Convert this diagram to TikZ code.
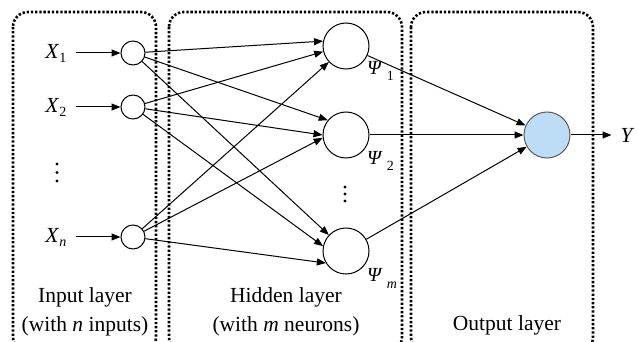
\documentclass[tikz,border=0pt]{standalone}
\usepackage{fontspec}
\setmainfont{Liberation Serif}
\newfontfamily\diagfont{Liberation Serif}
\usetikzlibrary{arrows.meta,positioning}
\definecolor{NeuronBlue}{RGB}{189,221,246}
\definecolor{NeuronEdge}{HTML}{5A5A5A}
\newcommand{\lowsub}[2][4pt]{\raisebox{-#1}{\fontsize{14}{14}\selectfont #2}}

\begin{document}
\begin{tikzpicture}[x=1pt,y=-1pt,>={Triangle[length=9pt,width=7pt]},
  font=\diagfont\fontsize{21.5}{29}\selectfont,
  layer/.style={line width=2.6pt,dash pattern=on 2.3pt off 1.9pt,rounded corners=15pt},
  conn/.style={->,line width=1pt},
  innode/.style={circle,draw,line width=1pt,minimum size=24pt,inner sep=0pt},
  hidnode/.style={circle,draw,line width=1pt,minimum size=46pt,inner sep=0pt},
  outnode/.style={circle,draw=NeuronEdge,fill=NeuronBlue,line width=1pt,minimum size=46pt,inner sep=0pt},
  varlab/.style={inner xsep=9pt,inner ysep=0pt},
  psilab/.style={anchor=base west,inner sep=0pt,font=\diagfont\fontsize{20}{20}\selectfont},
  laylab/.style={align=center,inner sep=0pt}]
  \useasboundingbox (0,0) rectangle (638,342);
  % layer frames
  \draw[layer] (13,12) rectangle (156,352);
  \draw[layer] (169,12) rectangle (402,352);
  \draw[layer] (411,12) rectangle (593,352);
  % neurons
  \node[innode] (i1) at (133,53) {};
  \node[innode] (i2) at (133,107) {};
  \node[innode] (in) at (133,237) {};
  \node[hidnode] (h1) at (346,46) {};
  \node[hidnode] (h2) at (346,135) {};
  \node[hidnode] (hm) at (346,251) {};
  \node[outnode] (o) at (547,135) {};
  % inputs, output, weights labels
  \node[varlab,left=45pt of i1] (x1) {\textit{X}\lowsub{1}};
  \node[varlab,left=45pt of i2] (x2) {\textit{X}\lowsub{2}};
  \node[varlab,left=45pt of in] (xn) {\textit{X}\lowsub{\textit{n}}};
  \node[varlab,right=41pt of o] (y) {\textit{Y}};
  \node[psilab] (p1) at ([shift={(21,29)}]h1.center) {\textit{Ψ}\kern4pt\lowsub[6pt]{1}};
  \node[psilab] (p2) at ([shift={(21,30)}]h2.center) {\textit{Ψ}\kern4pt\lowsub[6pt]{2}};
  \node[psilab] (pm) at ([shift={(21,31)}]hm.center) {\textit{Ψ}\kern4pt\lowsub[6pt]{\textit{m}}};
  \foreach \k in {0,1,2} {
    \fill (57,164+8.5*\k) circle (1.6pt);
    \fill (345,187+7*\k) circle (1.6pt);
  }
  % layer names
  \node[laylab,anchor=north] (inlab) at (85,287) {Input layer\\(with \textit{n} inputs)};
  \node[laylab,anchor=north] (hidlab) at (286,287) {Hidden layer\\(with \textit{m} neurons)};
  \node[laylab,anchor=base] (outlab) at (507,330) {Output layer};
  % connections
  \draw[conn] (x1) -- (i1);
  \draw[conn] (x2) -- (i2);
  \draw[conn] (xn) -- (in);
  \foreach \s/\t in {i1/h1.168,i1/h2.141,i1/hm.137,i2/h1.194,i2/h2.180,i2/hm.168,in/h1.223,in/h2.187,in/hm.211}
    \draw[conn] (\s) -- (\t);
  \draw[conn] (h1) -- (o);
  \draw[conn] (h2) -- (o);
  \draw[conn] (hm) -- (o);
  \draw[conn] (o) -- (y);
\end{tikzpicture}
\end{document}
